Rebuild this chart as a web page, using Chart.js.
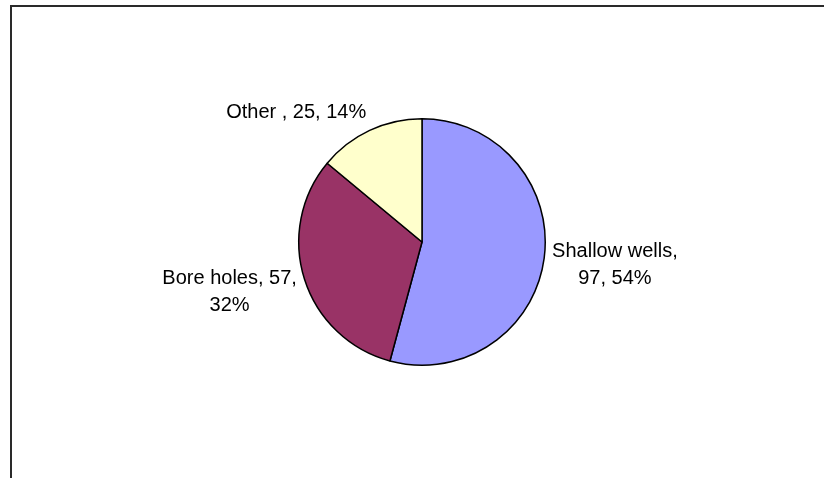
<!DOCTYPE html>
<html>
<head>
<meta charset="utf-8">
<script src="https://cdn.jsdelivr.net/npm/chart.js@4.4.0/dist/chart.umd.min.js"></script>
<style>
  html, body { margin: 0; padding: 0; background: #fff; }
  #wrap { position: relative; width: 824px; height: 478px; overflow: hidden; }
  #marco {
    position: absolute; left: 10px; top: 5px; width: 900px; height: 600px;
    border-left: 2px solid #2a2a2a; border-top: 2px solid #2a2a2a;
  }
  canvas { position: absolute; left: 0; top: 0; }
</style>
</head>
<body>
<div id="wrap">
  <div id="marco"></div>
  <canvas id="grafico" width="824" height="478"></canvas>
</div>
<script>
// Datos del gráfico
const categorias = ['Shallow wells', 'Bore holes', 'Other '];
const valores = [97, 57, 25];
const colores = ['#9999FF', '#993366', '#FFFFCC'];

const total = valores.reduce((a, b) => a + b, 0);

// Plugin para las etiquetas de datos (estilo Excel)
const etiquetas = {
    id: 'etiquetas',
    afterDatasetsDraw(chart) {
        const ctx = chart.ctx;
        const meta = chart.getDatasetMeta(0);
        ctx.save();
        ctx.font = '20px "Liberation Sans", Arial, sans-serif';
        ctx.fillStyle = '#000';
        ctx.textBaseline = 'middle';
        const altoLinea = 27;
        meta.data.forEach((arco, i) => {
            const pct = Math.round(valores[i] / total * 100);
            const texto = `${categorias[i]}, ${valores[i]}, ${pct}%`;
            // Partir el texto en líneas
            const palabras = texto.split(' ');
            const lineas = [];
            let actual = '';
            palabras.forEach(p => {
                const prueba = actual ? actual + ' ' + p : p;
                if (ctx.measureText(prueba).width > 145 && actual) {
                    lineas.push(actual);
                    actual = p;
                } else {
                    actual = prueba;
                }
            });
            lineas.push(actual);

            const medio = (arco.startAngle + arco.endAngle) / 2;
            const r = arco.outerRadius + 8;
            const ax = arco.x + Math.cos(medio) * r;
            const ay = arco.y + Math.sin(medio) * r;
            const ancho = Math.max(...lineas.map(l => ctx.measureText(l).width));
            const alto = lineas.length * altoLinea;
            const cx = Math.cos(medio) >= 0 ? ax + ancho / 2 : ax - ancho / 2;
            const cy = ay + Math.sin(medio) * alto / 2 + 2;
            ctx.textAlign = 'center';
            lineas.forEach((l, j) => {
                ctx.fillText(l, cx, cy - alto / 2 + altoLinea / 2 + j * altoLinea);
            });
        });
        ctx.restore();
    }
};

new Chart(document.getElementById('grafico').getContext('2d'), {
    type: 'pie',
    data: {
        labels: categorias,
        datasets: [{
            data: valores,
            backgroundColor: colores,
            borderColor: '#000',
            borderWidth: 1.5
        }]
    },
    options: {
        responsive: false,
        animation: false,
        layout: { padding: { top: 118, bottom: 112, left: 298, right: 278 } },
        plugins: {
            legend: { display: false },
            tooltip: { enabled: false }
        }
    },
    plugins: [etiquetas]
});
</script>
</body>
</html>
